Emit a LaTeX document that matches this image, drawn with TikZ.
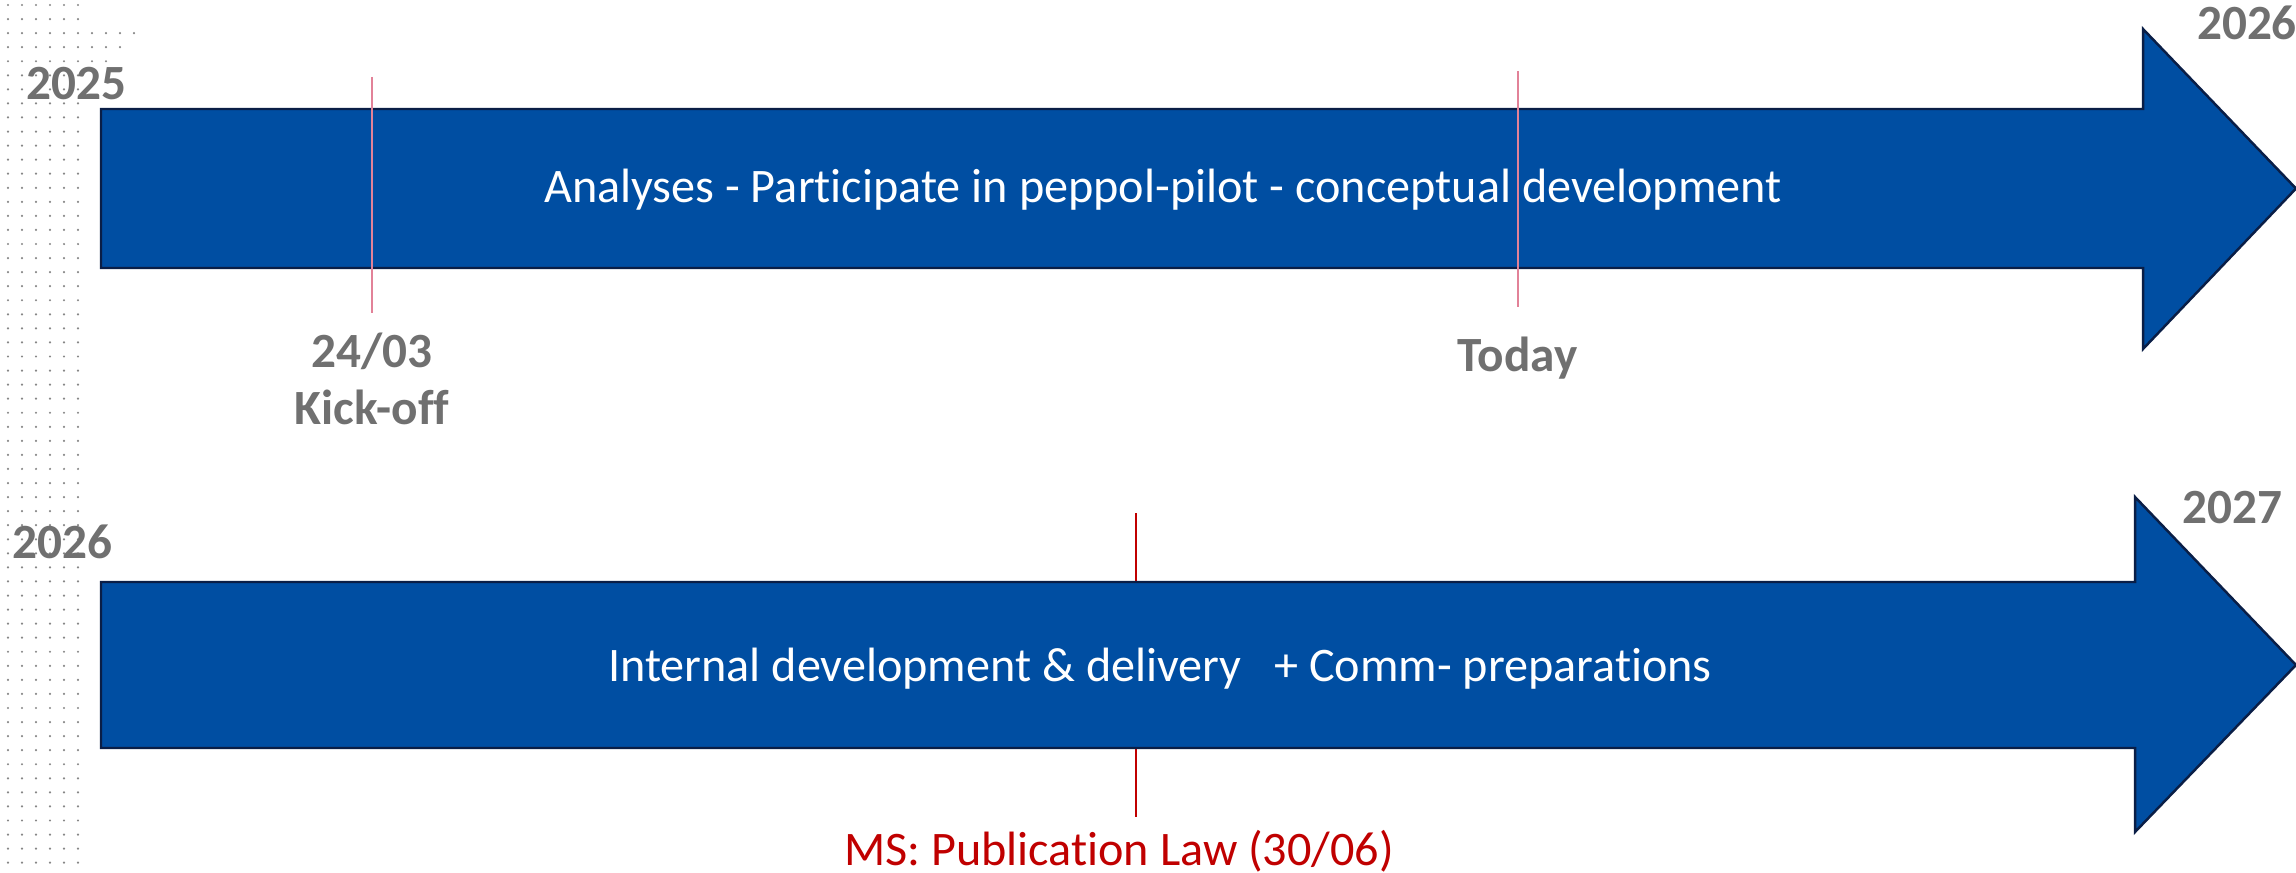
\documentclass[tikz,border=0pt]{standalone}
\usepackage{fontspec}
\setmainfont{Carlito}[Ligatures=NoCommon]
\definecolor{barblue}{RGB}{0,78,162}
\definecolor{baredge}{RGB}{10,30,70}
\definecolor{yeargray}{RGB}{112,112,112}
\definecolor{markpink}{RGB}{226,130,152}
\definecolor{msred}{RGB}{192,0,0}
\definecolor{dotgray}{RGB}{135,135,135}

\begin{document}
\begin{tikzpicture}[x=0.01cm,y=-0.01cm,
    phase/.style={fill=barblue,draw=baredge,line width=0.7pt,line join=miter},
    phasetext/.style={text=white,inner sep=0,anchor=base,font=\fontsize{13.7}{16}\selectfont},
    yearlabel/.style={text=yeargray,inner sep=0,anchor=base,font=\fontsize{14}{17}\selectfont\bfseries},
    marker/.style={draw=markpink,line width=0.6pt}]
    \useasboundingbox (0,0) rectangle (2296,873);

    % dotted strip on the left
    \foreach \j in {0,...,61}
        \foreach \i in {0,...,5}
            \fill[dotgray] (8+14*\i,5+14.06*\j) circle (0.35pt);
    \foreach \j/\n in {2/9,3/8,4/7}
        \foreach \i in {6,...,\n}
            \fill[dotgray] (8+14*\i,5+14.06*\j) circle (0.35pt);

    % 2025 - 2026
    \filldraw[phase] (101,109) -- (2143,109) -- (2143,29) -- (2296,188.5)
        -- (2143,349) -- (2143,268) -- (101,268) -- cycle;
    \node[phasetext] (phaseA) at (1163,203) {Analyses - Participate in peppol-pilot - conceptual development};
    \node[yearlabel] (startA) at (76.5,100) {2025};
    \node[yearlabel] (endA) at (2247,40) {2026};

    \coordinate (kickofftop) at (372,77);
    \coordinate (kickoffbot) at (372,313);
    \draw[marker] (kickofftop) -- (kickoffbot);
    \node[yearlabel] (kickdate) at (372,367) {24/03};
    \node[yearlabel] (kickname) at (372,424) {Kick-off};

    \coordinate (todaytop) at (1518,71);
    \coordinate (todaybot) at (1518,307);
    \draw[marker] (todaytop) -- (todaybot);
    \node[yearlabel] (today) at (1517.5,372) {Today};

    % 2026 - 2027
    \coordinate (lawtop) at (1136,513);
    \coordinate (lawbot) at (1136,817);
    \draw[msred,line width=0.6pt] (lawtop) -- (lawbot);
    \filldraw[phase] (101,582) -- (2135,582) -- (2135,497) -- (2296,665)
        -- (2135,832) -- (2135,748) -- (101,748) -- cycle;
    \node[phasetext] (phaseB) at (1160,681) {Internal development \& delivery \ \ + Comm- preparations};
    \node[yearlabel] (startB) at (62.5,558) {2026};
    \node[yearlabel] (endB) at (2232.5,523) {2027};
    \node[phasetext,text=msred] (law) at (1119,865) {MS: Publication Law (30/06)};
\end{tikzpicture}
\end{document}
